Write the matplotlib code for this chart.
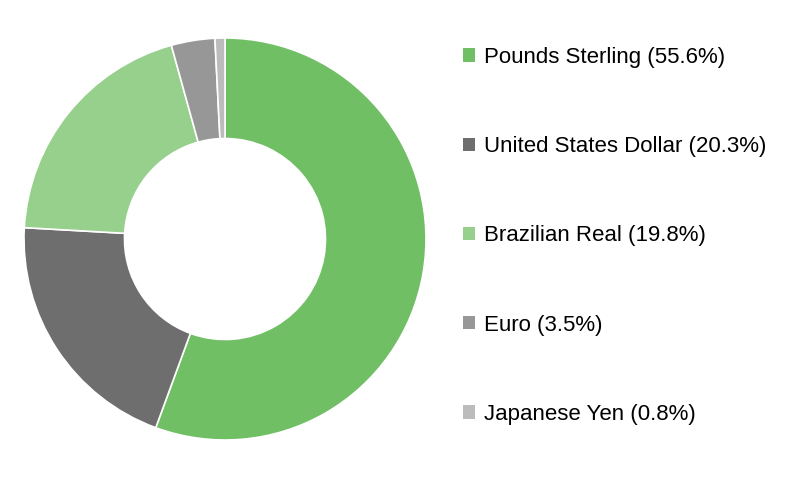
import matplotlib.pyplot as plt
from matplotlib.patches import Patch

plt.rcParams['font.family'] = ['Liberation Sans', 'DejaVu Sans']

currencies = ["Pounds Sterling", "United States Dollar", "Brazilian Real", "Euro", "Japanese Yen"]
shares = [55.6, 20.3, 19.8, 3.5, 0.8]
colors = ["#70bf65", "#6e6e6e", "#97d08d", "#979797", "#bcbcbc"]

fig = plt.figure(figsize=(8, 4.82), dpi=100)
ax = fig.add_axes([24 / 800, 42 / 482, 402 / 800, 402 / 482])

wedges, _ = ax.pie(shares, colors=colors, startangle=90, counterclock=False, radius=1,
                   wedgeprops=dict(width=0.5, edgecolor="white", linewidth=1.2))
ax.set_xlim(-1.0, 1.0)
ax.set_ylim(-1.0, 1.0)
ax.set_aspect("equal")

labels = [f"{c} ({s}%)" for c, s in zip(currencies, shares)]
handles = [Patch(facecolor=c, edgecolor="none") for c in colors]
fig.legend(handles, labels, loc="upper left", bbox_to_anchor=(454 / 800, 1 - 38 / 482),
           frameon=False, fontsize=16, handlelength=0.55, handleheight=0.55,
           handletextpad=0.4, labelspacing=3.07, borderaxespad=0)

fig.savefig("out.png", dpi=100)
